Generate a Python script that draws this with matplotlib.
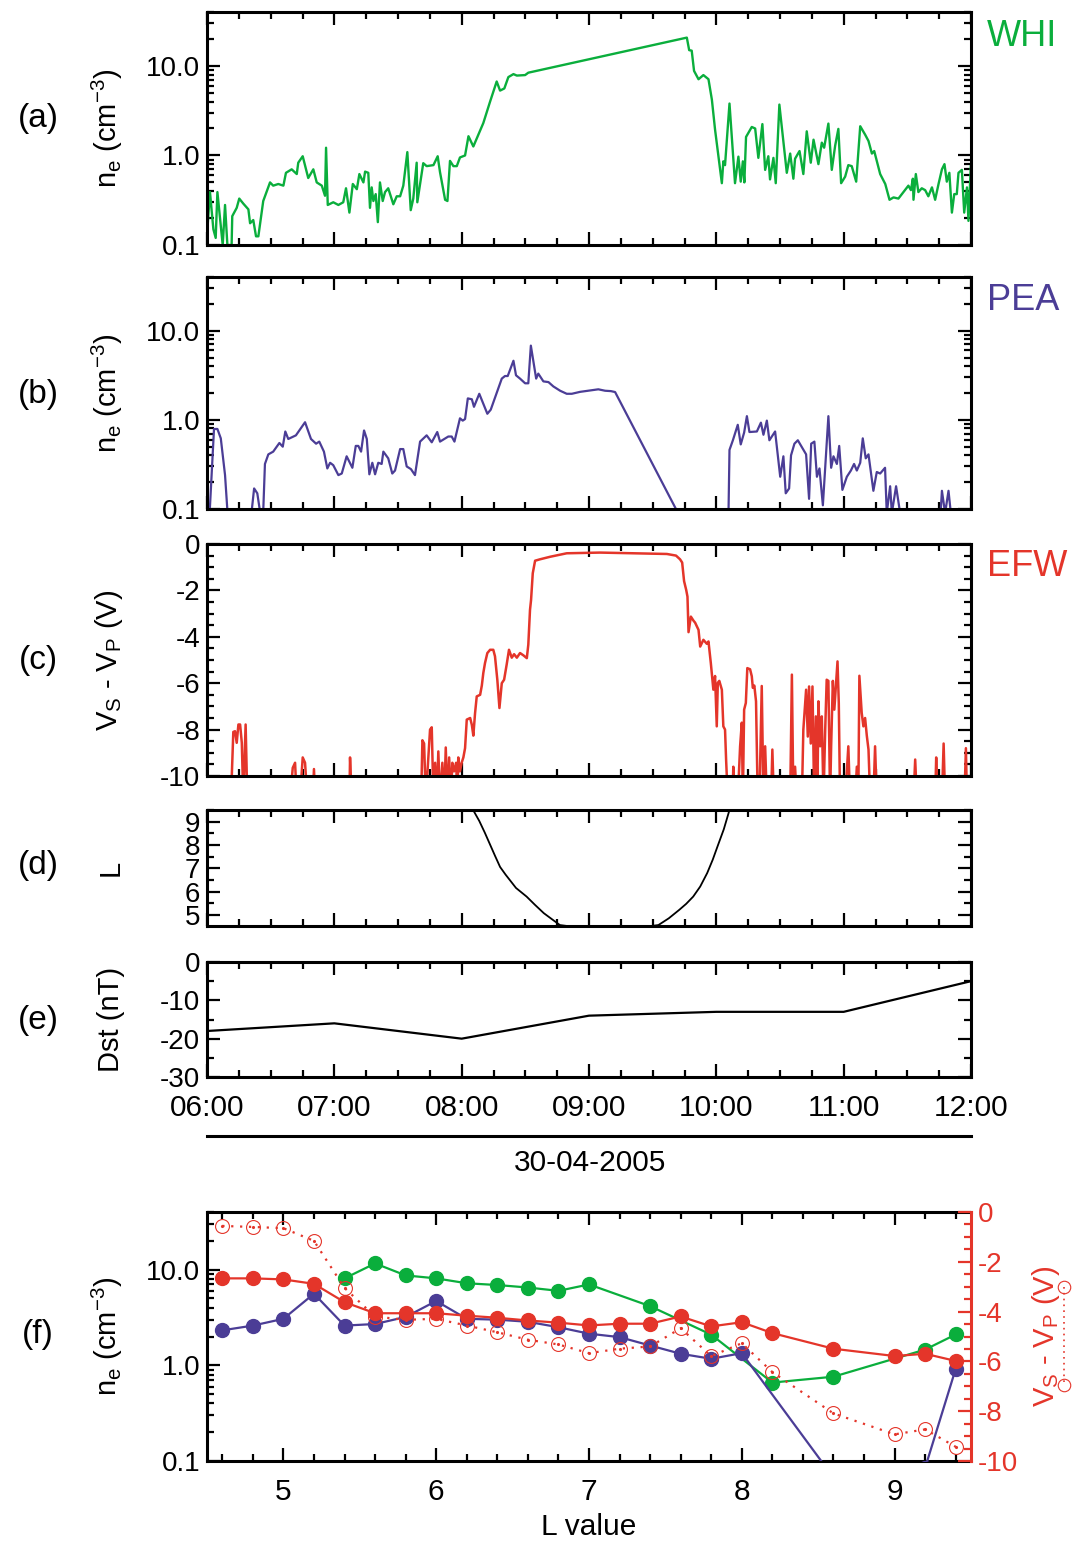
import numpy as np
import matplotlib
matplotlib.use("Agg")
import matplotlib.pyplot as plt
from matplotlib.lines import Line2D
from matplotlib.ticker import MultipleLocator, LogLocator, NullFormatter, FuncFormatter

plt.rcParams['font.family'] = ['Liberation Sans', 'DejaVu Sans']
plt.rcParams['mathtext.default'] = 'regular'
plt.rcParams['axes.unicode_minus'] = False

GREEN = '#0aae3c'
PURPLE = '#4b3d96'
RED = '#e4352a'

# ---- panel (a): WHI density, (minutes after 06:00 UT, n_e in cm^-3)
whi = [(0.1, 0.14), (1.4, 0.39), (3.0, 0.15), (4.1, 0.12), (4.9, 0.39), (7.4, 0.10), (8.5, 0.28),
       (9.6, 0.10), (11.6, 0.10), (11.9, 0.21), (14.0, 0.26), (15.2, 0.33), (17.1, 0.29), (19.5, 0.25),
       (20.3, 0.175), (21.8, 0.19), (23.1, 0.125), (24.2, 0.125), (26.5, 0.31), (29.7, 0.50), (31.2, 0.46),
       (33.6, 0.48), (36.0, 0.46), (37.2, 0.64), (39.9, 0.70), (42.3, 0.62), (43.0, 0.83), (45.1, 0.98),
       (47.7, 0.56), (50.1, 0.70), (51.7, 0.50), (54.1, 0.46), (55.6, 0.355), (56.1, 1.22), (56.9, 0.28),
       (59.5, 0.30), (61.9, 0.28), (64.2, 0.30), (65.5, 0.43), (67.1, 0.23), (68.7, 0.48), (70.6, 0.42),
       (71.8, 0.62), (73.7, 0.50), (74.5, 0.66), (76.0, 0.64), (76.8, 0.26), (77.6, 0.44), (78.4, 0.31),
       (79.5, 0.37), (80.5, 0.18), (81.5, 0.50), (82.8, 0.31), (83.9, 0.39), (85.4, 0.43), (87.8, 0.285),
       (89.4, 0.35), (91.0, 0.35), (92.5, 0.46), (94.4, 1.09), (96.0, 0.245), (97.2, 0.33), (98.8, 0.83),
       (99.1, 0.30), (101.9, 0.82), (103.5, 0.76), (106.7, 0.78), (108.7, 0.98), (109.8, 0.65), (112.2, 0.32),
       (113.3, 0.31), (114.5, 0.87), (116.1, 0.76), (117.7, 0.76), (119.2, 0.95), (121.6, 1.0), (123.2, 1.64),
       (125.5, 1.26), (127.9, 1.71), (130.2, 2.3), (133.4, 4.0), (136.5, 6.7), (138.1, 5.3), (140.1, 5.6),
       (142.0, 7.5), (144.4, 8.1), (146.0, 7.8), (149.9, 7.9), (151.4, 8.4), (226.1, 20.7), (227.2, 15.0),
       (228.4, 14.8), (229.5, 8.8), (231.6, 7.1), (233.9, 7.9), (236.3, 7.1), (237.9, 4.2), (239.4, 1.94),
       (242.6, 0.49), (243.3, 0.86), (244.1, 0.78), (246.2, 3.8), (248.8, 0.49), (250.4, 0.97), (251.5, 0.51),
       (252.5, 0.86), (253.2, 0.50), (254.0, 1.61), (255.1, 1.79), (256.7, 2.08), (258.3, 2.0), (259.8, 0.94),
       (261.7, 2.24), (263.0, 0.69), (264.5, 0.98), (265.3, 0.54), (266.9, 0.94), (268.0, 0.49), (269.7, 3.7),
       (271.3, 1.64), (273.2, 0.64), (274.8, 1.05), (276.3, 0.55), (277.1, 0.92), (279.2, 1.12), (281.0, 0.62),
       (282.6, 1.86), (284.5, 0.83), (285.8, 1.5), (288.1, 0.80), (289.7, 1.39), (290.8, 1.22), (292.8, 2.27),
       (294.4, 0.69), (296.0, 1.29), (297.5, 1.98), (298.8, 0.49), (300.7, 0.58), (302.2, 0.78), (303.8, 0.76),
       (305.9, 0.51), (307.8, 2.12), (310.1, 1.71), (311.7, 1.45), (313.3, 1.05), (314.4, 1.12), (317.2, 0.62),
       (319.6, 0.48), (321.6, 0.32), (323.5, 0.34), (325.8, 0.33), (328.5, 0.40), (330.5, 0.46), (331.7, 0.41),
       (332.6, 0.55), (332.9, 0.32), (334.0, 0.62), (335.2, 0.39), (336.8, 0.43), (338.4, 0.41), (339.9, 0.35),
       (341.6, 0.44), (343.1, 0.32), (344.7, 0.48), (346.3, 0.70), (347.5, 0.80), (348.6, 0.51), (349.8, 0.64),
       (351.0, 0.23), (352.1, 0.37), (353.3, 0.37), (354.1, 0.64), (355.7, 0.69), (356.8, 0.23), (358.1, 0.44),
       (358.8, 0.186), (359.9, 0.76)]

# ---- panel (b): PEA density
pea = [(0.2, 0.03), (3.3, 0.79), (4.9, 0.79), (6.5, 0.62), (8.5, 0.24), (10.4, 0.05), (19.8, 0.05),
       (22.2, 0.17), (23.7, 0.15), (26.2, 0.06), (27.3, 0.32), (28.9, 0.41), (31.2, 0.44), (34.1, 0.55),
       (35.7, 0.50), (36.9, 0.74), (38.3, 0.61), (41.9, 0.67), (46.2, 0.94), (49.0, 0.61), (51.4, 0.54),
       (52.9, 0.57), (55.1, 0.44), (56.7, 0.285), (58.0, 0.33), (59.5, 0.31), (61.9, 0.24), (63.5, 0.25),
       (65.8, 0.39), (68.5, 0.29), (70.1, 0.51), (71.3, 0.51), (72.6, 0.44), (74.0, 0.76), (75.3, 0.61),
       (76.5, 0.245), (77.9, 0.33), (79.2, 0.245), (80.7, 0.33), (82.3, 0.32), (83.1, 0.44), (85.4, 0.37),
       (87.3, 0.25), (88.6, 0.27), (91.0, 0.47), (92.5, 0.47), (94.1, 0.30), (96.1, 0.28), (98.0, 0.24),
       (100.4, 0.57), (103.5, 0.67), (105.9, 0.56), (108.5, 0.73), (109.8, 0.57), (113.7, 0.65), (115.3, 0.65),
       (116.6, 0.57), (119.2, 1.04), (120.5, 0.98), (121.6, 1.02), (122.9, 1.74), (124.8, 1.7), (125.8, 1.4),
       (128.3, 1.96), (132.1, 1.17), (133.7, 1.3), (137.0, 2.17), (138.9, 2.9), (140.4, 3.1), (141.7, 3.1),
       (144.4, 4.6), (145.6, 3.16), (147.5, 2.9), (149.9, 2.57), (151.4, 2.57), (152.6, 6.8), (155.1, 2.9),
       (156.1, 3.3), (158.5, 2.7), (160.9, 2.65), (163.2, 2.37), (166.4, 2.12), (169.5, 1.96), (171.9, 1.96),
       (175.8, 2.06), (184.4, 2.2), (187.6, 2.12), (190.3, 2.1), (192.3, 2.05), (232.4, 0.03), (245.3, 0.02),
       (246.2, 0.46), (247.8, 0.59), (250.1, 0.88), (251.5, 0.53), (253.1, 0.72), (254.4, 1.1), (255.6, 0.73),
       (259.1, 0.74), (261.0, 0.93), (262.2, 0.68), (263.8, 0.98), (265.0, 0.59), (267.7, 0.74), (270.1, 0.23),
       (271.6, 0.39), (272.7, 0.15), (274.3, 0.17), (275.2, 0.40), (276.8, 0.54), (278.4, 0.59), (282.3, 0.41),
       (283.7, 0.13), (284.7, 0.54), (286.2, 0.57), (287.4, 0.23), (288.6, 0.285), (290.2, 0.11), (292.8, 1.1),
       (294.1, 0.29), (295.2, 0.39), (296.8, 0.32), (297.9, 0.51), (299.4, 0.164), (301.5, 0.23), (303.4, 0.27),
       (304.9, 0.32), (306.2, 0.27), (307.8, 0.33), (309.0, 0.62), (310.4, 0.37), (311.7, 0.41), (314.0, 0.16),
       (315.6, 0.26), (317.2, 0.25), (319.5, 0.29), (320.3, 0.09), (321.9, 0.18), (322.7, 0.09), (324.7, 0.18),
       (326.6, 0.09), (336.0, 0.03), (345.0, 0.05), (346.3, 0.16), (347.8, 0.09), (349.4, 0.16), (350.5, 0.09),
       (354.9, 0.03), (360.0, 0.03)]

# ---- panel (c): EFW spacecraft potential Vs - Vp (V)
efw = [(0, -11), (11.3, -11), (12.4, -8.1), (13.2, -8.07), (14.0, -8.57), (14.8, -7.78), (15.6, -7.78),
       (16.4, -8.57), (17.1, -11), (18.2, -7.78), (19.0, -11), (39.1, -11), (40.4, -9.65), (41.5, -9.43),
       (42.3, -11), (43.8, -11), (45.1, -9.2), (46.2, -9.43), (47.3, -11), (49.8, -11), (50.4, -9.7),
       (51.0, -11), (67.1, -11), (67.4, -9.2), (68.2, -11), (100.9, -11), (101.5, -8.46), (102.3, -8.6),
       (103.1, -11), (105.1, -8.0), (105.9, -7.9), (106.7, -11), (107.5, -9.43), (108.3, -11), (109.0, -8.94),
       (109.8, -11), (110.9, -9.43), (111.8, -11), (112.5, -8.77), (113.3, -11), (114.1, -9.2), (114.9, -11),
       (115.6, -9.43), (116.4, -9.8), (117.4, -9.43), (118.0, -11), (118.4, -9.2), (119.2, -9.8), (120.0, -9.43),
       (120.8, -9.2), (121.6, -8.8), (122.4, -7.57), (124.0, -7.5), (124.8, -7.8), (125.5, -8.26), (126.3, -7.3),
       (127.1, -6.57), (128.7, -6.5), (129.5, -6.1), (130.2, -5.56), (131.0, -5.13), (132.1, -4.7), (133.4, -4.56),
       (134.9, -4.56), (135.7, -4.84), (136.8, -5.85), (137.8, -7.07), (138.9, -6.0), (140.0, -5.85), (141.2, -5.2),
       (142.3, -4.56), (143.6, -4.9), (144.7, -4.75), (146.0, -4.9), (147.5, -4.7), (149.1, -4.8), (150.7, -4.92),
       (151.4, -4.34), (152.2, -2.84), (152.7, -2.41), (153.5, -1.26), (154.6, -0.72), (156.9, -0.66),
       (161.7, -0.55), (169.5, -0.4), (185.2, -0.37), (200.9, -0.4), (216.7, -0.43), (221.0, -0.5),
       (222.9, -0.66), (223.9, -0.8), (224.8, -1.6), (225.8, -1.98), (226.4, -2.27), (226.9, -3.8),
       (228.0, -3.13), (229.2, -3.3), (230.0, -3.39), (231.6, -3.7), (232.4, -4.42), (233.9, -4.13),
       (235.5, -4.3), (236.3, -4.2), (237.4, -5.13), (238.6, -6.28), (239.4, -5.69), (240.2, -7.86),
       (240.7, -5.98), (241.4, -5.9), (242.6, -6.28), (243.3, -7.86), (244.1, -8.0), (244.6, -9.29),
       (245.4, -11), (247.6, -11), (248.0, -9.6), (248.5, -11), (250.1, -11), (251.2, -8.72), (252.0, -7.7),
       (252.5, -11), (253.1, -7.14), (253.9, -6.85), (254.6, -5.35), (255.9, -5.4), (256.7, -5.7), (257.2, -6.2),
       (257.9, -6.1), (258.7, -6.78), (259.5, -11), (260.3, -11), (261.4, -6.12), (262.2, -11), (263.0, -8.72),
       (263.8, -11), (265.8, -11), (266.4, -8.86), (267.1, -11), (274.8, -11), (275.6, -5.63), (276.3, -11),
       (277.1, -9.6), (277.9, -11), (280.3, -11), (281.0, -8.0), (282.3, -6.28), (283.1, -8.3), (283.7, -6.14),
       (284.5, -8.6), (285.3, -6.14), (286.1, -11), (286.9, -7.43), (287.6, -11), (288.1, -6.78), (288.9, -8.72),
       (289.7, -7.43), (290.5, -11), (291.3, -8.0), (292.0, -5.85), (292.8, -5.9), (293.6, -11), (294.1, -8.72),
       (294.9, -5.9), (295.6, -7.14), (296.3, -6.15), (297.1, -5.06), (297.7, -6.85), (298.3, -11), (300.7, -11),
       (302.2, -8.72), (303.0, -11), (305.4, -11), (306.2, -9.6), (306.9, -11), (307.4, -5.68), (308.5, -7.28),
       (309.3, -7.86), (310.1, -7.5), (310.9, -8.26), (311.7, -8.86), (312.5, -11), (314.0, -11), (314.8, -8.72),
       (315.6, -11), (332.9, -11), (333.7, -9.29), (334.5, -11), (343.1, -11), (343.6, -9.2), (344.2, -11),
       (346.3, -11), (347.1, -8.6), (347.8, -11), (356.9, -11), (357.6, -8.8), (358.1, -11), (360.0, -11)]

# ---- panel (d): L shell of the spacecraft
orbit = [(120.2, 10.6), (125.4, 9.5), (128.3, 9.03), (130.9, 8.53), (135.8, 7.52), (138.1, 7.06),
         (140.7, 6.73), (145.6, 6.16), (150.6, 5.79), (154.5, 5.44), (158.7, 5.08), (163.0, 4.79),
         (166.3, 4.57), (189.5, 4.3), (212.7, 4.57), (217.6, 4.86), (222.5, 5.22), (225.8, 5.48),
         (229.1, 5.79), (232.4, 6.22), (235.7, 6.8), (238.3, 7.37), (240.6, 7.95), (243.5, 8.67),
         (246.2, 9.5), (249.8, 10.6)]

# ---- panel (e): Dst hourly
dst_hour = [6, 7, 8, 9, 10, 11, 12]
dst_nT = [-18, -16, -20, -14, -13, -13, -5]

# ---- panel (f): averages versus L
whi_L = [5.4, 5.6, 5.8, 6.0, 6.2, 6.4, 6.6, 6.8, 7.0, 7.4, 7.8, 8.2, 8.6, 9.2, 9.4]
whi_ne = [8.1, 11.6, 8.7, 8.1, 7.2, 6.9, 6.5, 6.0, 7.0, 4.15, 2.09, 0.66, 0.76, 1.46, 2.1]
pea_L = [4.6, 4.8, 5.0, 5.2, 5.4, 5.6, 5.8, 6.0, 6.2, 6.4, 6.6, 6.8, 7.0, 7.2, 7.4, 7.6, 7.8, 8.0,
         8.6, 9.2, 9.4]
pea_ne = [2.32, 2.6, 3.06, 5.6, 2.6, 2.7, 3.2, 4.7, 3.06, 3.0, 2.85, 2.5, 2.14, 1.97, 1.61, 1.32, 1.17, 1.34,
          0.067, 0.085, 0.92]
efw_L = [4.6, 4.8, 5.0, 5.2, 5.4, 5.6, 5.8, 6.0, 6.2, 6.4, 6.6, 6.8, 7.0, 7.2, 7.4, 7.6, 7.8, 8.0, 8.2,
         8.6, 9.0, 9.2, 9.4]
efw_ne = [8.1, 8.1, 7.9, 7.1, 4.57, 3.5, 3.5, 3.5, 3.3, 3.14, 2.94, 2.79, 2.61, 2.72, 2.72, 3.24, 2.55, 2.82,
          2.17, 1.49, 1.25, 1.32, 1.11]
efw_pot = [-0.56, -0.6, -0.65, -1.16, -3.05, -4.2, -4.33, -4.29, -4.56, -4.83, -5.13, -5.32, -5.67, -5.49,
           -5.4, -4.67, -5.79, -5.27, -6.43, -8.09, -8.93, -8.73, -9.43]


def hours(series):
    arr = np.array(series, dtype=float).T
    return 6 + arr[0] / 60.0, arr[1]


W_PX, H_PX = 1086, 1541
fig = plt.figure(figsize=(W_PX / 100, H_PX / 100), dpi=100)


def box(top, bot, left=207, right=971):
    return [left / W_PX, 1 - bot / H_PX, (right - left) / W_PX, (bot - top) / H_PX]


SP = 2.2
TICK = 20


def style(ax):
    for s in ax.spines.values():
        s.set_linewidth(SP)
    ax.tick_params(which='both', direction='in', top=True, right=True, width=1.6,
                   labelsize=TICK, pad=5)
    ax.tick_params(which='major', length=9.5)
    ax.tick_params(which='minor', length=5)


def time_axis(ax, labels=False):
    ax.set_xlim(6, 12)
    ax.xaxis.set_major_locator(MultipleLocator(1))
    ax.xaxis.set_minor_locator(MultipleLocator(0.25))
    if labels:
        ax.xaxis.set_major_formatter(FuncFormatter(lambda v, p: '%02d:00' % int(round(v))))
        ax.tick_params(axis='x', labelsize=21.5, pad=12)
    else:
        ax.tick_params(axis='x', labelbottom=False)


def log_axis(ax):
    ax.set_yscale('log')
    ax.set_ylim(0.1, 40)
    ax.set_yticks([0.1, 1, 10])
    ax.set_yticklabels(['0.1', '1.0', '10.0'])
    ax.yaxis.set_minor_locator(LogLocator(base=10, subs=np.arange(2, 10), numticks=20))
    ax.yaxis.set_minor_formatter(NullFormatter())


NE_LABEL = 'n$_e$ (cm$^{-3}$)'
VS_LABEL = 'V$_S$ - V$_P$ (V)'
LAB_X = (125 - 207) / 764

# (a)
ax_a = fig.add_axes(box(12, 245))
t, v = hours(whi)
ax_a.plot(t, v, color=GREEN, lw=1.7)
style(ax_a)
time_axis(ax_a)
log_axis(ax_a)
ax_a.set_ylabel(NE_LABEL, fontsize=21)
ax_a.yaxis.set_label_coords(LAB_X, 0.5)

# (b)
ax_b = fig.add_axes(box(277, 509))
t, v = hours(pea)
ax_b.plot(t, v, color=PURPLE, lw=1.6)
style(ax_b)
time_axis(ax_b)
log_axis(ax_b)
ax_b.set_ylabel(NE_LABEL, fontsize=21)
ax_b.yaxis.set_label_coords(LAB_X, 0.5)

# (c)
ax_c = fig.add_axes(box(544, 776))
t, v = hours(efw)
ax_c.plot(t, v, color=RED, lw=1.8)
style(ax_c)
time_axis(ax_c)
ax_c.set_ylim(-10, 0)
ax_c.yaxis.set_major_locator(MultipleLocator(2))
ax_c.yaxis.set_minor_locator(MultipleLocator(0.5))
ax_c.set_ylabel(VS_LABEL, fontsize=21)
ax_c.yaxis.set_label_coords(LAB_X, 0.5)

# (d)
ax_d = fig.add_axes(box(810, 926))
t, v = hours(orbit)
ax_d.plot(t, v, color='k', lw=1.3)
style(ax_d)
time_axis(ax_d)
ax_d.set_ylim(4.53, 9.5)
ax_d.yaxis.set_major_locator(MultipleLocator(1))
ax_d.yaxis.set_minor_locator(MultipleLocator(0.5))
ax_d.set_ylabel('L', fontsize=21)
ax_d.yaxis.set_label_coords(LAB_X, 0.5)

# (e)
ax_e = fig.add_axes(box(962, 1077))
ax_e.plot(dst_hour, dst_nT, color='k', lw=1.6)
style(ax_e)
time_axis(ax_e, labels=True)
ax_e.set_ylim(-30, 0)
ax_e.yaxis.set_major_locator(MultipleLocator(10))
ax_e.yaxis.set_minor_locator(MultipleLocator(5))
ax_e.set_ylabel('Dst (nT)', fontsize=21)
ax_e.yaxis.set_label_coords(LAB_X, 0.5)

fig.add_artist(Line2D([207 / W_PX, 971 / W_PX], [1 - 1136 / H_PX] * 2, transform=fig.transFigure,
                      color='k', lw=SP))
fig.text(590 / W_PX, 1 - 1163 / H_PX, '30-04-2005', fontsize=21.5, ha='center', va='center')

# (f)
ax_f = fig.add_axes(box(1212, 1461))
ax_f.plot(whi_L, whi_ne, color=GREEN, lw=1.6, marker='o', ms=10, zorder=3)
ax_f.plot(pea_L, pea_ne, color=PURPLE, lw=1.6, marker='o', ms=10, zorder=4)
ax_f.plot(efw_L, efw_ne, color=RED, lw=1.6, marker='o', ms=10, zorder=5)
style(ax_f)
log_axis(ax_f)
ax_f.set_xlim(4.5, 9.5)
ax_f.xaxis.set_major_locator(MultipleLocator(1))
ax_f.xaxis.set_minor_locator(MultipleLocator(0.2))
ax_f.tick_params(axis='y', which='both', right=False)
ax_f.tick_params(axis='x', labelsize=21.5, pad=12)
ax_f.spines['right'].set_visible(False)
ax_f.set_ylabel(NE_LABEL, fontsize=21)
ax_f.yaxis.set_label_coords(LAB_X, 0.5)
ax_f.set_xlabel('L value', fontsize=21.5, labelpad=5)

ax_v = ax_f.twinx()
ax_v.plot(efw_L, efw_pot, color=RED, lw=1.6, ls=(0, (1, 3)), marker='o', ms=10, mfc='none',
          mec=RED, mew=0.8)
ax_v.plot(efw_L, efw_pot, ls='none', marker='.', ms=2.5, color=RED)
ax_v.set_ylim(-10, 0)
ax_v.set_xlim(4.5, 9.5)
for name in ['top', 'bottom', 'left']:
    ax_v.spines[name].set_visible(False)
ax_v.spines['right'].set_color(RED)
ax_v.spines['right'].set_linewidth(SP)
ax_v.yaxis.set_major_locator(MultipleLocator(2))
ax_v.yaxis.set_minor_locator(MultipleLocator(0.5))
ax_v.tick_params(axis='y', which='both', direction='in', colors=RED, width=1.6, labelsize=TICK, pad=5)
ax_v.tick_params(axis='y', which='major', length=9.5)
ax_v.tick_params(axis='y', which='minor', length=5)
ax_v.set_ylabel(VS_LABEL, fontsize=21, color=RED, rotation=90)
ax_v.yaxis.set_label_coords((1030 - 207) / 764, 0.5)
fig.add_artist(Line2D([1064 / W_PX] * 2, [1 - 1287 / H_PX, 1 - 1385 / H_PX], transform=fig.transFigure,
                      color=RED, lw=1.2, ls=(0, (1, 2.5)), marker='o', ms=9, mfc='none', mew=0.8))

# panel letters and instrument names
for letter, yp in [('(a)', 118), ('(b)', 395), ('(c)', 660), ('(d)', 865), ('(e)', 1020), ('(f)', 1335)]:
    fig.text(38 / W_PX, 1 - yp / H_PX, letter, fontsize=24, ha='center', va='center')
for name, col, yp in [('WHI', GREEN, 36), ('PEA', PURPLE, 300), ('EFW', RED, 567)]:
    fig.text(987 / W_PX, 1 - yp / H_PX, name, fontsize=26, color=col, ha='left', va='center')

fig.savefig('out.png', dpi=100)
